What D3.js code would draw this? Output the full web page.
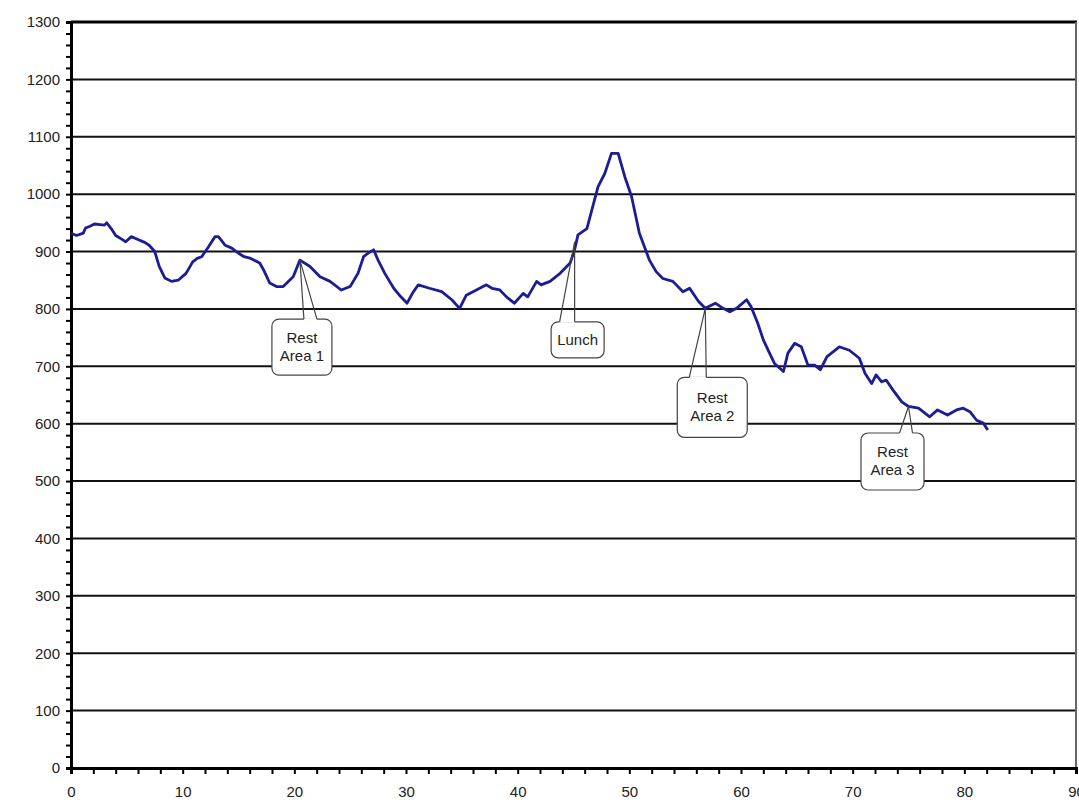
<!DOCTYPE html>
<meta charset="utf-8">
<style>
body { margin: 0; background: #fff; }
text { font-family: "Liberation Sans", Arial, sans-serif; fill: #222; }
.grid line { stroke: #111; stroke-width: 2px; }
.callout rect { fill: #fff; stroke: #444; stroke-width: 1.2px; }
.callout path { fill: none; stroke: #444; stroke-width: 1.2px; }
</style>
<svg></svg>
<script src="https://cdn.jsdelivr.net/npm/d3@7"></script>
<script>

// elevation profile, distance vs elevation
var distance = [0.0, 0.5, 1.1, 1.3, 1.7, 2.1, 2.6, 3.0, 3.2, 3.6, 4.0, 4.5, 4.9, 5.4, 6.1, 6.6, 7.0, 7.5, 7.9, 8.4,
  9.0, 9.6, 10.3, 10.9, 11.3, 11.7, 12.3, 12.9, 13.2, 13.8, 14.4, 15.0, 15.5, 16.1, 16.9, 17.3, 17.8, 18.4, 19.0, 19.9,
  20.5, 21.4, 22.3, 23.2, 24.2, 25.0, 25.7, 26.2, 26.6, 27.1, 27.5, 28.1, 28.9, 29.5, 30.1, 30.6, 31.1, 32.1, 33.2, 34.1,
  34.8, 35.4, 36.3, 37.2, 37.7, 38.4, 39.0, 39.7, 40.5, 40.9, 41.7, 42.1, 42.9, 43.8, 44.7, 45.1, 45.4, 46.2, 46.8, 47.2,
  47.8, 48.4, 49.0, 49.6, 50.2, 50.9, 51.8, 52.4, 53.0, 53.9, 54.8, 55.4, 56.2, 56.8, 57.7, 58.4, 59.0, 59.6, 60.5, 60.9,
  61.5, 62.0, 62.5, 63.0, 63.8, 64.2, 64.8, 65.4, 66.0, 66.6, 67.1, 67.7, 68.3, 68.8, 69.7, 70.6, 71.1, 71.7, 72.1, 72.6,
  73.0, 73.6, 74.4, 75.0, 75.9, 76.9, 77.6, 78.5, 79.3, 79.9, 80.5, 81.1, 81.7, 82.1];
var elevation = [932, 928, 932, 941, 944, 948, 947, 946, 950, 940, 928, 922, 917, 926, 920, 916, 911, 900, 874, 854,
  848, 850, 862, 882, 888, 891, 908, 926, 926, 911, 906, 897, 891, 888, 880, 866, 845, 839, 839, 856,
  885, 874, 856, 848, 833, 839, 862, 891, 897, 903, 885, 862, 836, 822, 810, 828, 842, 836, 830, 816,
  801, 824, 833, 842, 836, 833, 821, 810, 827, 821, 848, 842, 848, 862, 880, 903, 929, 940, 984, 1013,
  1036, 1071, 1071, 1030, 996, 932, 885, 865, 853, 848, 830, 836, 813, 801, 810, 801, 795, 801, 816, 804,
  775, 746, 725, 705, 691, 723, 740, 734, 702, 702, 694, 717, 726, 734, 728, 714, 688, 670, 685, 673,
  676, 659, 638, 630, 627, 612, 624, 615, 624, 627, 621, 606, 601, 589];

var xTicks = [0, 10, 20, 30, 40, 50, 60, 70, 80, 90];
var yTicks = [0, 100, 200, 300, 400, 500, 600, 700, 800, 900, 1000, 1100, 1200, 1300];

var noteLabels = [["Rest", "Area 1"], ["Lunch"], ["Rest", "Area 2"], ["Rest", "Area 3"]];
var noteDistance = [20.5, 45.1, 56.8, 75.0];
var noteElevation = [885, 917, 801, 630];

// callout box placement relative to the tip: box centre offset, size, wedge base
var noteLayout = [
  {dx: 2, dy: 87, w: 60, h: 56, b1: 4, b2: 17},
  {dx: 3, dy: 98, w: 53, h: 36, b1: -15, b2: 0},
  {dx: 7, dy: 99, w: 70, h: 60, b1: -16, b2: 1},
  {dx: -16, dy: 55, w: 63, h: 57, b1: -9, b2: 4}
];

var width = 1079,
    height = 802,
    margin = {top: 22, right: 3, bottom: 34, left: 71};

var svg = d3.select("svg")
    .attr("width", width)
    .attr("height", height);

var x = d3.scaleLinear().domain([0, 90]).range([margin.left, width - margin.right]);
var y = d3.scaleLinear().domain([0, 1300]).range([height - margin.bottom, margin.top]);

// horizontal grid lines
svg.append("g")
    .attr("class", "grid")
  .selectAll("line")
  .data(yTicks.filter(function(d) { return d > 0 && d < 1300; }))
  .enter().append("line")
    .attr("x1", x(0))
    .attr("x2", x(90))
    .attr("y1", function(d) { return y(d); })
    .attr("y2", function(d) { return y(d); });

// frame: heavy top, light right
svg.append("line")
    .attr("x1", x(0)).attr("x2", x(90) + 1)
    .attr("y1", y(1300)).attr("y2", y(1300))
    .attr("stroke", "#000").attr("stroke-width", 3);
svg.append("line")
    .attr("x1", x(90)).attr("x2", x(90))
    .attr("y1", y(1300)).attr("y2", y(0))
    .attr("stroke", "#666").attr("stroke-width", 2);

var yAxis = svg.append("g")
    .attr("transform", "translate(" + x(0) + ",0)")
    .call(d3.axisLeft(y).tickValues(d3.range(0, 1301, 20)).tickSize(5)
      .tickFormat(function(d) { return d % 100 === 0 ? d : ""; }).tickPadding(6));

var xAxis = svg.append("g")
    .attr("transform", "translate(0," + y(0) + ")")
    .call(d3.axisBottom(x).tickValues(d3.range(0, 91, 2)).tickSize(6)
      .tickFormat(function(d) { return d % 10 === 0 ? d : ""; }).tickPadding(12));

[yAxis, xAxis].forEach(function(a) {
  a.attr("font-size", 15).attr("font-family", "'Liberation Sans', Arial, sans-serif");
  a.select(".domain").attr("stroke", "#000").attr("stroke-width", 3);
  a.selectAll(".tick line").attr("stroke", "#000").attr("stroke-width", 2);
  a.selectAll(".tick text")
      .attr("fill", "#333")
      .style("font-size", "15px");
});

// elevation line
var points = distance.map(function(d, i) { return [d, elevation[i]]; });

svg.append("path")
    .datum(points)
    .attr("fill", "none")
    .attr("stroke", "#1c1c96")
    .attr("stroke-width", 2.8)
    .attr("stroke-linejoin", "round")
    .attr("d", d3.line()
      .x(function(d) { return x(d[0]); })
      .y(function(d) { return y(d[1]); }));

// callouts
noteLabels.forEach(function(lines, i) {
  var L = noteLayout[i],
      tx = x(noteDistance[i]),
      ty = y(noteElevation[i]),
      cx = tx + L.dx,
      cy = ty + L.dy,
      top = cy - L.h / 2;

  var g = svg.append("g").attr("class", "callout");

  g.append("rect")
      .attr("x", cx - L.w / 2)
      .attr("y", top)
      .attr("width", L.w)
      .attr("height", L.h)
      .attr("rx", 7)
      .attr("ry", 7);

  // cover box edge where the wedge meets it
  g.append("line")
      .attr("x1", tx + L.b1).attr("x2", tx + L.b2)
      .attr("y1", top).attr("y2", top)
      .attr("stroke", "#fff").attr("stroke-width", 2);

  g.append("path")
      .attr("d", "M" + (tx + L.b1) + "," + top + "L" + tx + "," + ty + "L" + (tx + L.b2) + "," + top);

  var lh = 18,
      y0 = cy - (lines.length - 1) * lh / 2 + 5;
  lines.forEach(function(t, j) {
    g.append("text")
        .attr("x", cx)
        .attr("y", y0 + j * lh)
        .attr("text-anchor", "middle")
        .style("font-size", "15px")
        .text(t);
  });
});

</script>
